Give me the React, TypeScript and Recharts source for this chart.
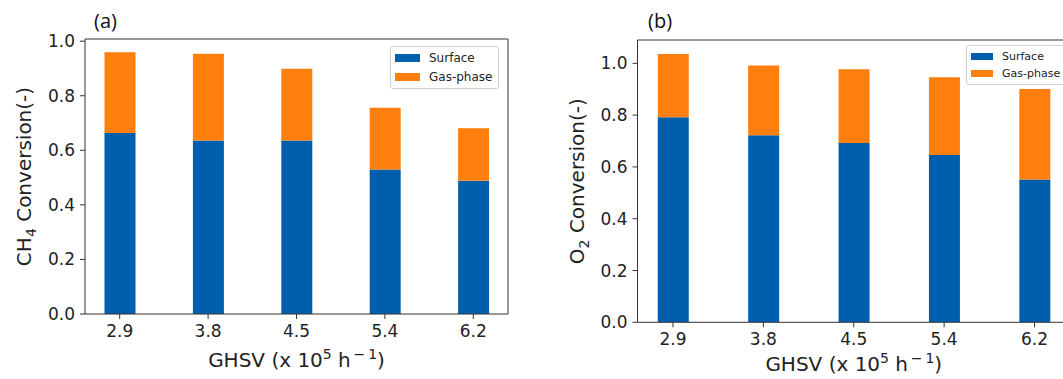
import React from 'react'
import { BarChart, Bar, XAxis, YAxis } from 'recharts'

// GHSV categories (x 10^5 h^-1)
const ghsv = ['2.9', '3.8', '4.5', '5.4', '6.2']

// (a) CH4 conversion split
const ch4Surface = [0.663, 0.636, 0.636, 0.53, 0.488]
const ch4Gas = [0.296, 0.318, 0.263, 0.226, 0.193]

// (b) O2 conversion split
const o2Surface = [0.792, 0.722, 0.692, 0.646, 0.551]
const o2Gas = [0.244, 0.27, 0.285, 0.3, 0.35]

const yTicks = [0, 0.2, 0.4, 0.6, 0.8, 1.0]
const xTicks = [0, 1, 2, 3, 4]

const BLUE = '#005FAD'
const ORANGE = '#FF7F0E'
const AXIS = '#333'
const FONT = '"DejaVu Sans", sans-serif'

// matplotlib-style padding: bar width 0.35 plus 5% margins
const X_DOMAIN: [number, number] = [-0.3925, 4.3925]

const build = (surface: number[], gas: number[]) =>
  ghsv.map((g, i) => ({ idx: i, label: g, surface: surface[i], gas: gas[i] }))

function LegendBox({ left, top, fontSize, patchW, patchH, gap, pad }: any) {
  const rows = [
    { name: 'Surface', color: BLUE },
    { name: 'Gas-phase', color: ORANGE },
  ]
  return (
    <div
      style={{
        position: 'absolute',
        left,
        top,
        border: '1px solid #d0d0d0',
        borderRadius: 3,
        background: 'rgba(255,255,255,0.85)',
        padding: pad,
        fontFamily: FONT,
        fontSize,
        color: '#222',
        lineHeight: 1,
      }}
    >
      {rows.map((r, i) => (
        <div key={r.name} style={{ display: 'flex', alignItems: 'center', marginTop: i ? gap : 0, whiteSpace: 'nowrap' }}>
          <span style={{ display: 'inline-block', width: patchW, height: patchH, background: r.color, marginRight: 9 }} />
          {r.name}
        </div>
      ))}
    </div>
  )
}

function Panel(props: any) {
  const { data, yMax, left, width, plot, ySpecies, ySub, yTitleX, xTitleY, tag, tagX, legend } = props
  // plot = [left, top, right, bottom] edges of the axes box inside this chart
  const [pl, pt, pr, pb] = plot
  const tick = { fontSize: 17, fill: '#222', fontFamily: FONT }
  const cx = (pl + pr) / 2
  const cy = (pt + pb) / 2
  return (
    <div style={{ position: 'absolute', left, top: 0, width, height: 379 }}>
      <BarChart
        width={width}
        height={379}
        data={data}
        margin={{ top: pt - 1, left: 0, right: width - pr - 1, bottom: 0 }}
        barSize={31}
      >
        <XAxis
          dataKey="idx"
          type="number"
          domain={X_DOMAIN}
          ticks={xTicks}
          tickFormatter={(v: number) => ghsv[v]}
          height={379 - pb}
          tick={tick}
          tickSize={5}
          tickMargin={6}
          stroke={AXIS}
        />
        <XAxis xAxisId="top" orientation="top" type="number" domain={X_DOMAIN} height={1} tick={false} tickLine={false} stroke={AXIS} />
        <YAxis
          type="number"
          domain={[0, yMax]}
          ticks={yTicks}
          tickFormatter={(v: number) => v.toFixed(1)}
          width={pl}
          tick={tick}
          tickSize={5}
          tickMargin={5}
          stroke={AXIS}
          allowDataOverflow
        />
        <YAxis yAxisId="right" orientation="right" type="number" domain={[0, yMax]} width={1} tick={false} tickLine={false} stroke={AXIS} />
        <Bar dataKey="surface" name="Surface" stackId="s" fill={BLUE} isAnimationActive={false} />
        <Bar dataKey="gas" name="Gas-phase" stackId="s" fill={ORANGE} isAnimationActive={false} />
      </BarChart>
      {/* axis titles */}
      <svg width={width} height={379} style={{ position: 'absolute', left: 0, top: 0, pointerEvents: 'none' }}>
        <text x={cx} y={xTitleY} textAnchor="middle" fill="#222" fontSize={20} fontFamily={FONT}>
          GHSV (x 10<tspan dy={-8} fontSize={14}>5</tspan>
          <tspan dy={8}> h</tspan>
          <tspan dy={-8} fontSize={14}>{'\u2009\u2212\u20091'}</tspan>
          <tspan dy={8}>)</tspan>
        </text>
        <text
          x={yTitleX}
          y={cy}
          textAnchor="middle"
          fill="#222"
          fontSize={20}
          fontFamily={FONT}
          transform={`rotate(-90, ${yTitleX}, ${cy})`}
        >
          {ySpecies}
          <tspan dy={5} fontSize={14}>{ySub}</tspan>
          <tspan dy={-5}> Conversion(-)</tspan>
        </text>
      </svg>
      <LegendBox {...legend} />
      <div
        style={{
          position: 'absolute',
          left: tagX,
          top: 7,
          fontFamily: '"Open Sans", sans-serif',
          fontSize: 20,
          color: '#111',
        }}
      >
        {tag}
      </div>
    </div>
  )
}

export default function App() {
  return (
    <div style={{ position: 'fixed', left: 0, top: 0, width: 1063, height: 379, overflow: 'hidden', background: '#fff' }}>
      <Panel
        data={build(ch4Surface, ch4Gas)}
        yMax={1.008}
        left={0}
        width={540}
        plot={[85, 39, 508, 314]}
        ySpecies="CH"
        ySub="4"
        yTitleX={31}
        xTitleY={367}
        tag="(a)"
        tagX={94}
        legend={{ left: 390, top: 46, fontSize: 12, patchW: 25, patchH: 8, gap: 7, pad: '5px 6px 5px 4px' }}
      />
      <Panel
        data={build(o2Surface, o2Gas)}
        yMax={1.09}
        left={520}
        width={580}
        plot={[117.5, 40, 550, 322.3]}
        ySpecies="O"
        ySub="2"
        yTitleX={64}
        xTitleY={371}
        tag="(b)"
        tagX={128}
        legend={{ left: 446, top: 45, fontSize: 11, patchW: 22, patchH: 7, gap: 6, pad: '5px 6px 5px 4px' }}
      />
    </div>
  )
}
